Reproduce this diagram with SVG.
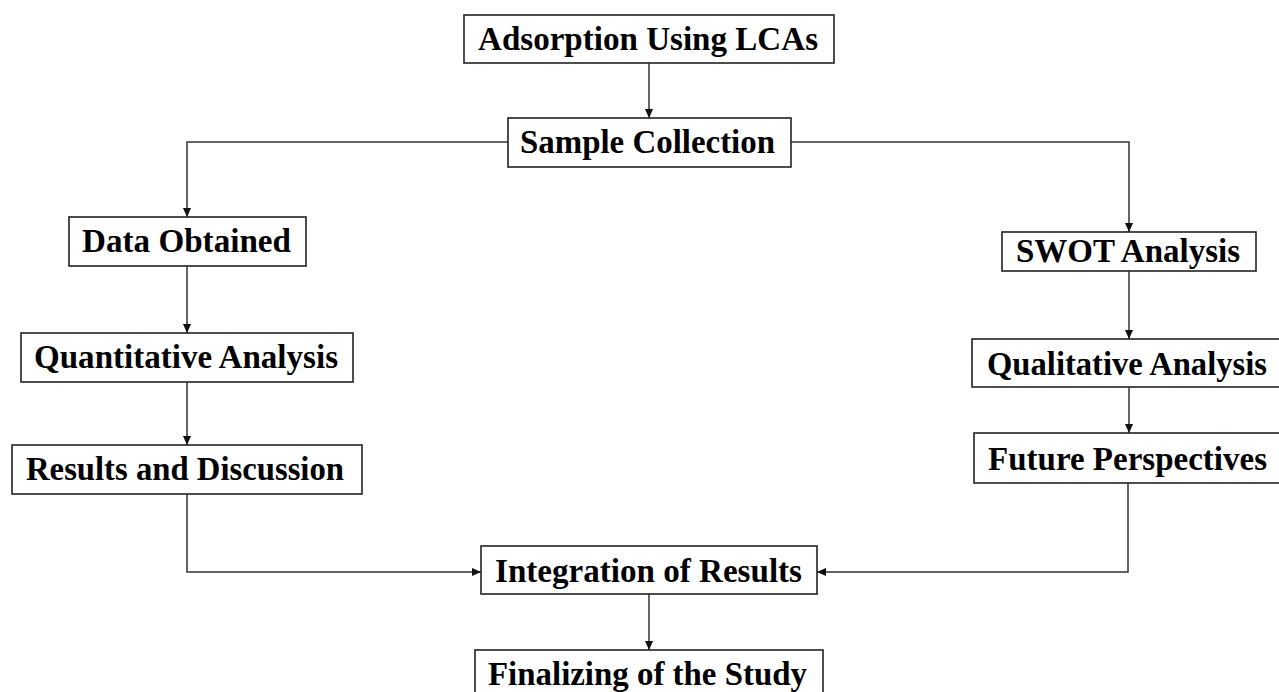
<svg xmlns="http://www.w3.org/2000/svg" width="1279" height="692" viewBox="0 0 1279 692">
<defs>
<style>
.box{fill:#fff;stroke:#222;stroke-width:1.6}
.lbl{font-family:"Liberation Serif","Times New Roman",serif;font-weight:bold;font-size:33px;fill:#000}
.con{fill:none;stroke:#333;stroke-width:1.5}
</style>
<marker id="ah" viewBox="0 0 10 10" refX="10" refY="5" markerWidth="9" markerHeight="9" markerUnits="userSpaceOnUse" orient="auto">
<path d="M0,0.5 L10,5 L0,9.5 z" fill="#111"/>
</marker>
</defs>
<rect width="1279" height="692" fill="#fff"/>
<g id="connectors">
<path class="con" d="M649,63 V118" marker-end="url(#ah)"/>
<path class="con" d="M508,142 H187 V217" marker-end="url(#ah)"/>
<path class="con" d="M791,142 H1129 V232" marker-end="url(#ah)"/>
<path class="con" d="M187,266 V333" marker-end="url(#ah)"/>
<path class="con" d="M187,382 V445" marker-end="url(#ah)"/>
<path class="con" d="M1129,271 V339" marker-end="url(#ah)"/>
<path class="con" d="M1129,387 V433" marker-end="url(#ah)"/>
<path class="con" d="M187,494 V572 H481" marker-end="url(#ah)"/>
<path class="con" d="M1128,483 V572 H817" marker-end="url(#ah)"/>
<path class="con" d="M649,594 V650" marker-end="url(#ah)"/>
</g>
<g id="n1"><rect class="box" x="464" y="15" width="370" height="48"/><text class="lbl" x="478" y="50" textLength="340" lengthAdjust="spacingAndGlyphs">Adsorption Using LCAs</text></g>
<g id="n2"><rect class="box" x="508" y="118" width="283" height="49"/><text class="lbl" x="520" y="153" textLength="255" lengthAdjust="spacingAndGlyphs">Sample Collection</text></g>
<g id="n3"><rect class="box" x="69" y="217" width="237" height="49"/><text class="lbl" x="82" y="252" textLength="209" lengthAdjust="spacingAndGlyphs">Data Obtained</text></g>
<g id="n4"><rect class="box" x="21" y="333" width="332" height="49"/><text class="lbl" x="34" y="368" textLength="304" lengthAdjust="spacingAndGlyphs">Quantitative Analysis</text></g>
<g id="n5"><rect class="box" x="12" y="445" width="350" height="49"/><text class="lbl" x="26" y="480" textLength="318" lengthAdjust="spacingAndGlyphs">Results and Discussion</text></g>
<g id="n6"><rect class="box" x="1002" y="232" width="254" height="39"/><text class="lbl" x="1016" y="262" textLength="224" lengthAdjust="spacingAndGlyphs">SWOT Analysis</text></g>
<g id="n7"><rect class="box" x="972" y="339" width="320" height="48"/><text class="lbl" x="987" y="375" textLength="280" lengthAdjust="spacingAndGlyphs">Qualitative Analysis</text></g>
<g id="n8"><rect class="box" x="974" y="433" width="320" height="50"/><text class="lbl" x="988" y="470" textLength="279" lengthAdjust="spacingAndGlyphs">Future Perspectives</text></g>
<g id="n9"><rect class="box" x="481" y="546" width="336" height="48"/><text class="lbl" x="495" y="582" textLength="307" lengthAdjust="spacingAndGlyphs">Integration of Results</text></g>
<g id="n10"><rect class="box" x="475" y="650" width="348" height="60"/><text class="lbl" x="488" y="685" textLength="319" lengthAdjust="spacingAndGlyphs">Finalizing of the Study</text></g>
</svg>
